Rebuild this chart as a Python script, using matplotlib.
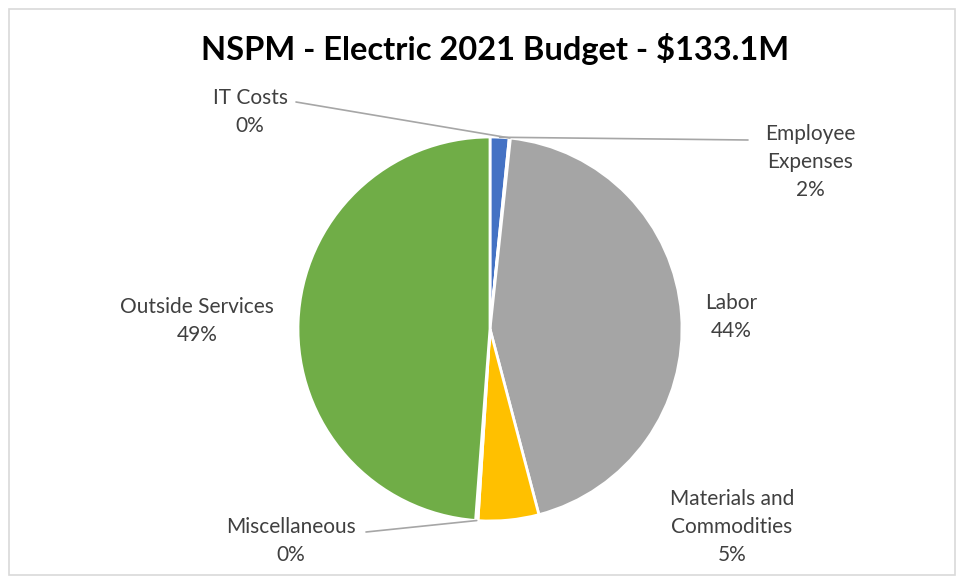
"""NSPM electric 2021 budget pie chart."""

import numpy as np
import matplotlib

matplotlib.use("Agg")
import matplotlib.pyplot as plt
from matplotlib.patches import Rectangle

# Data (percent of $133.1M), clockwise from 12 o'clock
categories = [
    "Employee\nExpenses",
    "IT Costs",
    "Labor",
    "Materials and\nCommodities",
    "Miscellaneous",
    "Outside Services",
]
shares = [1.6, 0.1, 44.2, 5.1, 0.2, 48.8]
pct_labels = ["2%", "0%", "44%", "5%", "0%", "49%"]
colors = ["#4472C4", "#ED7D31", "#A5A5A5", "#FFC000", "#5B9BD5", "#70AD47"]

W, H = 960, 579
plt.rcParams["font.family"] = ["Lato", "DejaVu Sans"]

fig = plt.figure(figsize=(W / 100, H / 100), dpi=100)

# outer chart frame
fig.patches.append(
    Rectangle((9 / W, 4 / H), 946 / W, 566 / H, transform=fig.transFigure,
              fill=False, edgecolor="#D9D9D9", linewidth=1.2)
)

fig.text(495 / W, 1 - 49 / H, "NSPM - Electric 2021 Budget - $133.1M",
         ha="center", va="center", fontsize=23.5, fontweight="bold",
         color="#000000")

# pie axes: centre (490, 329) px, radius 192 px
cx, cy, r = 490, 329, 192
ax = fig.add_axes([(cx - r) / W, (H - cy - r) / H, 2 * r / W, 2 * r / H])
wedges, _ = ax.pie(shares, colors=colors, startangle=90, counterclock=False,
                   radius=1.0,
                   wedgeprops=dict(edgecolor="white", linewidth=2))
ax.set_xlim(-1, 1)
ax.set_ylim(-1, 1)
ax.set_aspect("equal")
ax.axis("off")

# label placement (pixel centres of the label blocks) and leader lines
label_pos = {
    0: (810, 162),
    1: (250, 112),
    2: (731, 317),
    3: (732, 527),
    4: (291, 541),
    5: (197, 321),
}
leader_start = {0: (748, 140), 1: (296, 102), 4: (366, 532)}


def px_to_fig(x, y):
    return x / W, 1 - y / H


for i, (cat, pct) in enumerate(zip(categories, pct_labels)):
    fx, fy = px_to_fig(*label_pos[i])
    fig.text(fx, fy, f"{cat}\n{pct}", ha="center", va="center",
             fontsize=15, color="#404040", linespacing=1.5)
    if i in leader_start:
        w = wedges[i]
        mid = np.deg2rad((w.theta1 + w.theta2) / 2)
        tip = (np.cos(mid), np.sin(mid))
        sx, sy = px_to_fig(*leader_start[i])
        ax.annotate("", xy=tip, xycoords="data", xytext=(sx, sy),
                    textcoords="figure fraction",
                    arrowprops=dict(arrowstyle="-", color="#A6A6A6",
                                    linewidth=1.2, shrinkA=0, shrinkB=0),
                    annotation_clip=False)

fig.savefig("out.png", dpi=100)
